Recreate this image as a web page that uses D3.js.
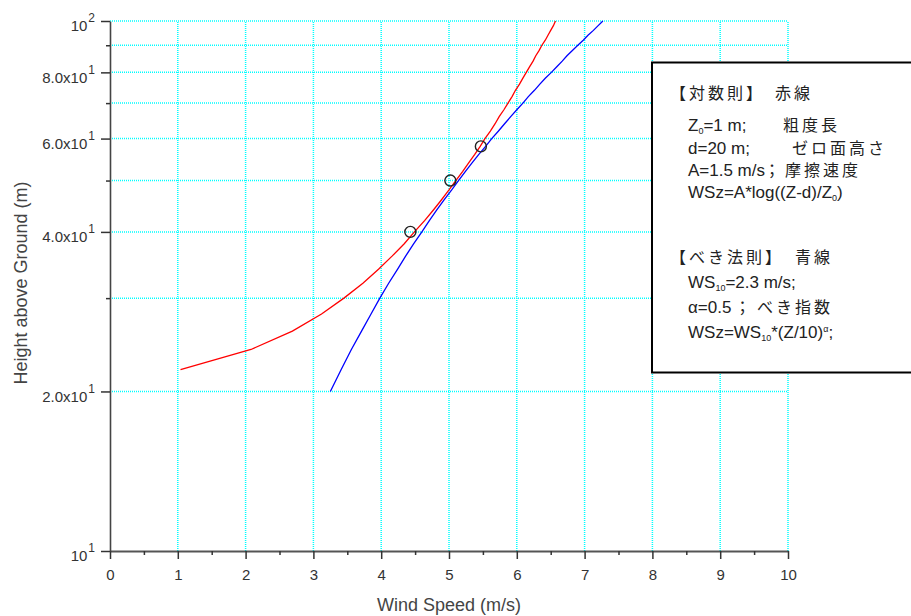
<!DOCTYPE html>
<html>
<head>
<meta charset='utf-8'>
<title>Wind profile</title>
<style>
  body { margin: 0; background: #fff; }
  svg { display: block; font-family: "Liberation Sans", Arial, sans-serif; }
  .jp { font-family: "Noto Sans CJK JP", sans-serif; }
  .narrow { font-family: "Liberation Sans Narrow", "Arial Narrow", "Liberation Sans", sans-serif; }
</style>
</head>
<body>
<script src='https://d3js.org/d3.v7.min.js'></script>
<div id="container"></div>
<script>
// heights (m) the two curves were evaluated at
var heights = [20, 22, 24, 26, 28, 30, 32, 34, 36, 38, 40, 42, 44, 46, 48, 50, 52, 54, 56, 58, 60,
               62, 64, 66, 68, 70, 72, 74, 76, 78, 80, 82, 84, 86, 88, 90, 92, 94, 96, 98, 100];
// log law (red) wind speed, m/s
var wsLog = [null, 1.04, 2.08, 2.69, 3.12, 3.45, 3.73, 3.96, 4.16, 4.34, 4.49, 4.64, 4.77, 4.89, 5.00,
             5.10, 5.20, 5.29, 5.38, 5.46, 5.53, 5.61, 5.68, 5.74, 5.81, 5.87, 5.93, 5.98, 6.04, 6.09,
             6.14, 6.19, 6.24, 6.28, 6.33, 6.37, 6.42, 6.46, 6.50, 6.54, 6.57];
// power law (blue) wind speed, m/s
var wsPow = [3.25, 3.41, 3.56, 3.71, 3.85, 3.98, 4.11, 4.24, 4.36, 4.48, 4.60, 4.71, 4.82, 4.93, 5.04,
             5.14, 5.24, 5.34, 5.44, 5.54, 5.63, 5.73, 5.82, 5.91, 6.00, 6.09, 6.17, 6.26, 6.34, 6.42,
             6.51, 6.59, 6.67, 6.74, 6.82, 6.90, 6.98, 7.05, 7.13, 7.20, 7.27];
// measured points
var obsWS = [4.43, 5.02, 5.47];
var obsZ = [40, 50, 58];

var xTicks = [0, 1, 2, 3, 4, 5, 6, 7, 8, 9, 10];
var xMinor = [0.5, 1.5, 2.5, 3.5, 4.5, 5.5, 6.5, 7.5, 8.5, 9.5];
var yTicks = [10, 20, 40, 60, 80, 100];
var yTickMant = ["", "2.0x", "4.0x", "6.0x", "8.0x", ""];
var yTickExp = ["1", "1", "1", "1", "1", "2"];
var yMinor = [30, 50, 70, 90];
var yGrid = [20, 30, 40, 50, 60, 70, 80, 90, 100];

const width = 911,
      height = 616,
      margin = { top: 21, bottom: 65, left: 110, right: 123 };

var svg = d3.select("#container").append("svg")
    .attr("width", width)
    .attr("height", height);

var x = d3.scaleLinear()
    .domain([0, 10])
    .range([margin.left, width - margin.right]);

var y = d3.scaleLog()
    .domain([10, 100])
    .range([height - margin.bottom, margin.top]);

// grid
var grid = svg.append("g")
    .attr("stroke", "#00ffff")
    .attr("stroke-width", 1.5)
    .attr("stroke-dasharray", "1,1");

grid.selectAll(".gx")
    .data(xTicks.slice(1))
    .enter().append("line")
    .attr("x1", d => x(d)).attr("x2", d => x(d))
    .attr("y1", y(10)).attr("y2", y(100));

grid.selectAll(".gy")
    .data(yGrid)
    .enter().append("line")
    .attr("x1", x(0)).attr("x2", x(10))
    .attr("y1", d => y(d)).attr("y2", d => y(d));

// axes
var xAxis = svg.append("g")
    .attr("transform", "translate(0," + y(10) + ")")
    .call(d3.axisBottom(x).tickValues(xTicks).tickFormat(d3.format("d")).tickSize(8).tickPadding(10).tickSizeOuter(0));

svg.append("g")
    .attr("transform", "translate(0," + y(10) + ")")
    .call(d3.axisBottom(x).tickValues(xMinor).tickFormat("").tickSize(4).tickSizeOuter(0))
    .select(".domain").remove();

var yAxis = svg.append("g")
    .attr("transform", "translate(" + x(0) + ",0)")
    .call(d3.axisLeft(y).tickValues(yTicks).tickFormat("").tickSize(9).tickPadding(6).tickSizeOuter(0));

svg.append("g")
    .attr("transform", "translate(" + x(0) + ",0)")
    .call(d3.axisLeft(y).tickValues(yMinor).tickFormat("").tickSize(4).tickSizeOuter(0))
    .select(".domain").remove();

svg.selectAll(".domain").attr("stroke", "#444").attr("stroke-width", 1.6);
xAxis.select(".domain").attr("stroke", "#555").attr("stroke-width", 2.2);
svg.selectAll(".tick line").attr("stroke", "#333").attr("stroke-width", 1.5);

xAxis.selectAll("text")
    .attr("font-size", 15)
    .attr("fill", "#333");

// y labels like 8.0x10^1
yAxis.selectAll(".tick").each(function(d, i) {
  var t = d3.select(this).select("text")
      .attr("font-size", 15)
      .attr("fill", "#333")
      .attr("x", -15)
      .attr("dy", "0.65em")
      .text(null);
  t.append("tspan").text(yTickMant[i] + "10");
  t.append("tspan").attr("font-size", 12).attr("dy", -9).attr("dx", 1).text(yTickExp[i]);
});

// axis titles
svg.append("text")
    .attr("text-anchor", "middle")
    .attr("x", 449).attr("y", 611)
    .attr("font-size", 18)
    .attr("fill", "#444")
    .text("Wind Speed (m/s)");

svg.append("text")
    .attr("text-anchor", "middle")
    .attr("transform", "translate(27,283)rotate(-90)")
    .attr("font-size", 18)
    .attr("fill", "#444")
    .text("Height above Ground (m)");

// curves
var rows = heights.map((z, i) => ({ z: z, log: wsLog[i], pow: wsPow[i] }));

svg.append("path")
    .datum(rows)
    .attr("fill", "none")
    .attr("stroke", "#ff0000")
    .attr("stroke-width", 1.3)
    .attr("d", d3.line().defined(d => d.log != null).x(d => x(d.log)).y(d => y(d.z)));

svg.append("path")
    .datum(rows)
    .attr("fill", "none")
    .attr("stroke", "#0000ff")
    .attr("stroke-width", 1.3)
    .attr("d", d3.line().x(d => x(d.pow)).y(d => y(d.z)));

svg.selectAll(".obs")
    .data(obsWS)
    .enter().append("circle")
    .attr("cx", d => x(d))
    .attr("cy", (d, i) => y(obsZ[i]))
    .attr("r", 5.5)
    .attr("fill", "none")
    .attr("stroke", "#222")
    .attr("stroke-width", 1.4);

// legend box
var lg = svg.append("g").attr("fill", "#222").attr("font-size", 17).attr("class", "narrow");

lg.append("rect")
    .attr("x", 652).attr("y", 62.5)
    .attr("width", 270).attr("height", 310)
    .attr("fill", "#fff")
    .attr("stroke", "#000")
    .attr("stroke-width", 2);

function jp(sel, txt, xpos) {
  var s = sel.append("tspan").attr("class", "jp").attr("font-size", 16).attr("letter-spacing", 3).text(txt);
  if (xpos != null) s.attr("x", xpos);
  return s;
}

var t1 = lg.append("text").attr("x", 670).attr("y", 99);
jp(t1, "【対数則】");
jp(t1, "赤線", 775);

var t2 = lg.append("text").attr("x", 688).attr("y", 131);
t2.append("tspan").text("Z");
t2.append("tspan").attr("font-size", 9).attr("dy", 3).text("0");
t2.append("tspan").attr("dy", -3).text("=1 m;");
jp(t2, "粗度長", 783);

var t3 = lg.append("text").attr("x", 688).attr("y", 154);
t3.append("tspan").text("d=20 m;");
jp(t3, "ゼロ面高さ", 792);

var t4 = lg.append("text").attr("x", 688).attr("y", 176);
t4.append("tspan").text("A=1.5 m/s");
jp(t4, "；").attr("dx", -1);
jp(t4, "摩擦速度", 785);

var t5 = lg.append("text").attr("x", 688).attr("y", 198);
t5.append("tspan").text("WSz=A*log((Z-d)/Z");
t5.append("tspan").attr("font-size", 9).attr("dy", 3).text("0");
t5.append("tspan").attr("dy", -3).text(")");

var t6 = lg.append("text").attr("x", 670).attr("y", 263);
jp(t6, "【べき法則】");
jp(t6, "青線", 795);

var t7 = lg.append("text").attr("x", 688).attr("y", 288);
t7.append("tspan").text("WS");
t7.append("tspan").attr("font-size", 9).attr("dy", 3).text("10");
t7.append("tspan").attr("dy", -3).text("=2.3 m/s;");

var t8 = lg.append("text").attr("x", 688).attr("y", 313);
t8.append("tspan").text("α=0.5");
jp(t8, "；").attr("dx", 3);
jp(t8, "べき指数", 757);

var t9 = lg.append("text").attr("x", 688).attr("y", 338);
t9.append("tspan").text("WSz=WS");
t9.append("tspan").attr("font-size", 9).attr("dy", 3).text("10");
t9.append("tspan").attr("dy", -3).text("*(Z/10)");
t9.append("tspan").attr("font-size", 9).attr("dy", -6).text("α");
t9.append("tspan").attr("dy", 6).text(";");
</script>
</body>
</html>
